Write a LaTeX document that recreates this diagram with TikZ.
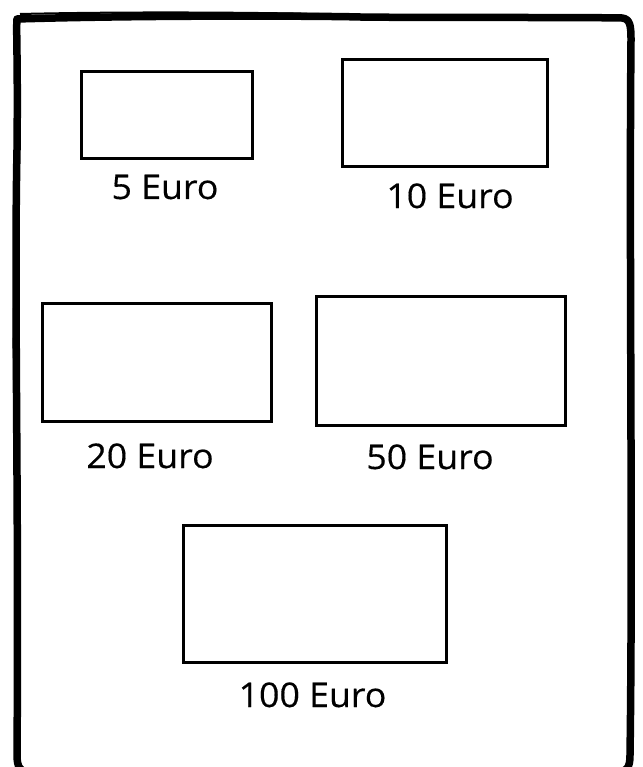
\documentclass[tikz,border=0pt]{standalone}
\usepackage{fontspec}
\setmainfont[FakeStretch=1.05,FakeBold=0.4]{Open Sans}
\begin{document}
\begin{tikzpicture}[x=1pt,y=-1pt,
  bill/.style={draw=black, line width=3.2pt, rectangle, inner sep=0pt},
  lbl/.style={anchor=base, inner sep=0pt, font=\fontsize{34}{40}\selectfont}]
\useasboundingbox (0,0) rectangle (642,767);
\fill[white] (0,0) rectangle (642,767);
% hand-drawn frame
\draw[line width=7.5pt, line join=round, line cap=round]
  (17,19) .. controls (150,15) and (330,16) .. (360,17)
  .. controls (450,18) and (560,17) .. (622,18)
  .. controls (630,19) and (631,25) .. (631,40)
  .. controls (629,250) and (633,550) .. (630,755)
  .. controls (630,768) and (627,772) .. (615,772)
  -- (30,772)
  .. controls (20,772) and (17,767) .. (17,755)
  .. controls (19,500) and (14,300) .. (17,150)
  .. controls (18,60) and (16,30) .. (17,19) -- cycle;
\draw[line width=2pt] (20,14) .. controls (150,11) and (300,13) .. (355,15);
\draw[line width=2pt] (14,380) .. controls (13,330) and (15,250) .. (16,200);
% bills
\node[bill, minimum width=171, minimum height=87] (b5) at (167,115) {};
\node[bill, minimum width=205, minimum height=107] (b10) at (445,113) {};
\node[bill, minimum width=229, minimum height=118] (b20) at (157,362.5) {};
\node[bill, minimum width=249, minimum height=129] (b50) at (441,361) {};
\node[bill, minimum width=263, minimum height=137] (b100) at (315,594) {};
% labels
\node[lbl] (l5) at (165,199) {5 Euro};
\node[lbl] (l10) at (450,208) {10 Euro};
\node[lbl] (l20) at (150,468) {20 Euro};
\node[lbl] (l50) at (430,469) {50 Euro};
\node[lbl] (l100) at (312.5,707) {100 Euro};
\end{tikzpicture}
\end{document}
